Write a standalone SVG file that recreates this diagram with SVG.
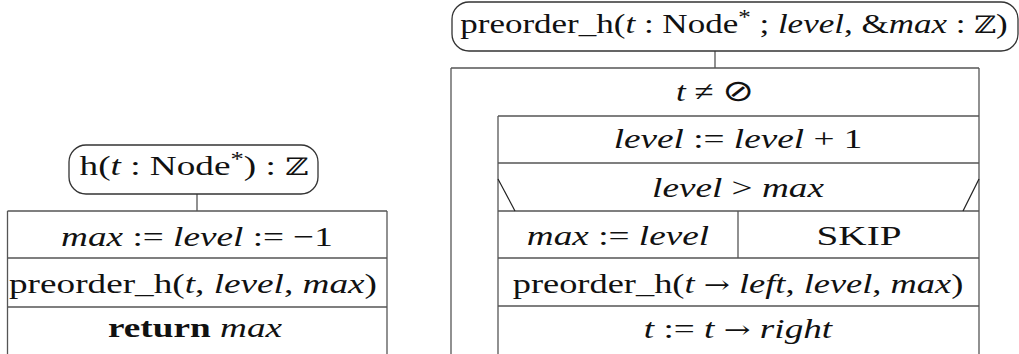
<svg xmlns="http://www.w3.org/2000/svg" width="1019" height="354" viewBox="0 0 1019 354">
<style>
.ln{stroke:#555;stroke-width:1.3;fill:none}
.dg{stroke:#222;stroke-width:1.2;fill:none}
.term{fill:#fff;stroke:#333;stroke-width:1.3}
text{font-family:"Liberation Serif","DejaVu Serif",serif;font-size:28px;fill:#111;text-anchor:middle}
.i{font-style:italic}
.b{font-weight:bold}
.s{font-family:"DejaVu Serif","Liberation Serif",serif;font-size:24px}
.o{font-family:"DejaVu Sans","Liberation Sans",sans-serif;font-size:30px;font-weight:normal}
</style>
<rect width="1019" height="354" fill="#fff"/>
<g id="connectors">
<line class="ln" x1="197" y1="194" x2="197" y2="211"/>
<line class="ln" x1="715" y1="51" x2="715" y2="68"/>
</g>
<g id="h-start">
<rect class="term" x="69" y="145" width="249" height="49" rx="17"/>
<text transform="translate(194,175) scale(1.33,1)">h(<tspan class="i">t</tspan> : Node<tspan dy="-9" font-size="20">*</tspan><tspan dy="9">) : </tspan><tspan class="s">ℤ</tspan></text>
</g>
<g id="h-body">
<line class="ln" x1="7.5" y1="211" x2="387" y2="211"/>
<line class="ln" x1="7.5" y1="211" x2="7.5" y2="354"/>
<line class="ln" x1="387" y1="211" x2="387" y2="354"/>
<line class="ln" x1="7.5" y1="258" x2="387" y2="258"/>
<line class="ln" x1="7.5" y1="307" x2="387" y2="307"/>
</g>
<g id="h-init"><text transform="translate(197,246) scale(1.33,1)"><tspan class="i">max</tspan> := <tspan class="i">level</tspan> := −1</text></g>
<g id="h-call"><text transform="translate(193,293) scale(1.33,1)">preorder_h(<tspan class="i">t</tspan>, <tspan class="i">level</tspan>, <tspan class="i">max</tspan>)</text></g>
<g id="h-return"><text transform="translate(195,337) scale(1.33,1)"><tspan class="b">return</tspan> <tspan class="i">max</tspan></text></g>

<g id="p-start">
<rect class="term" x="452" y="2" width="566" height="49" rx="17"/>
<text transform="translate(734,33) scale(1.25,1)">preorder_h(<tspan class="i">t</tspan> : Node<tspan dy="-9" font-size="20">*</tspan><tspan dy="9"> ; </tspan><tspan class="i">level</tspan>, &amp;<tspan class="i">max</tspan> : <tspan class="s">ℤ</tspan>)</text>
</g>
<g id="p-loop">
<line class="ln" x1="451" y1="68" x2="979" y2="68"/>
<line class="ln" x1="451" y1="68" x2="451" y2="354"/>
<line class="ln" x1="979" y1="68" x2="979" y2="354"/>
<line class="ln" x1="498" y1="116" x2="979" y2="116"/>
<line class="ln" x1="498" y1="116" x2="498" y2="354"/>
<text transform="translate(715,101) scale(1.25,1)"><tspan class="i">t</tspan> ≠ <tspan class="o">⊘</tspan></text>
</g>
<g id="p-inc">
<line class="ln" x1="498" y1="163" x2="979" y2="163"/>
<text transform="translate(738,148) scale(1.33,1)"><tspan class="i">level</tspan> := <tspan class="i">level</tspan> + 1</text>
</g>
<g id="p-if">
<line class="ln" x1="498" y1="211" x2="979" y2="211"/>
<line class="dg" x1="498" y1="179" x2="515" y2="211"/>
<line class="dg" x1="979" y1="179" x2="963" y2="211"/>
<text transform="translate(738,197) scale(1.33,1)"><tspan class="i">level</tspan> &gt; <tspan class="i">max</tspan></text>
</g>
<g id="p-then">
<line class="ln" x1="738" y1="211" x2="738" y2="258"/>
<text transform="translate(618,245) scale(1.33,1)"><tspan class="i">max</tspan> := <tspan class="i">level</tspan></text>
</g>
<g id="p-else"><text transform="translate(859,245) scale(1.4,1)">SKIP</text></g>
<g id="p-call">
<line class="ln" x1="498" y1="258" x2="979" y2="258"/>
<text transform="translate(738,293) scale(1.3,1)">preorder_h(<tspan class="i">t</tspan> <tspan class="s">→</tspan> <tspan class="i">left</tspan>, <tspan class="i">level</tspan>, <tspan class="i">max</tspan>)</text>
</g>
<g id="p-next">
<line class="ln" x1="498" y1="306" x2="979" y2="306"/>
<text transform="translate(738,338) scale(1.33,1)"><tspan class="i">t</tspan> := <tspan class="i">t</tspan> <tspan class="s">→</tspan> <tspan class="i">right</tspan></text>
</g>
</svg>
